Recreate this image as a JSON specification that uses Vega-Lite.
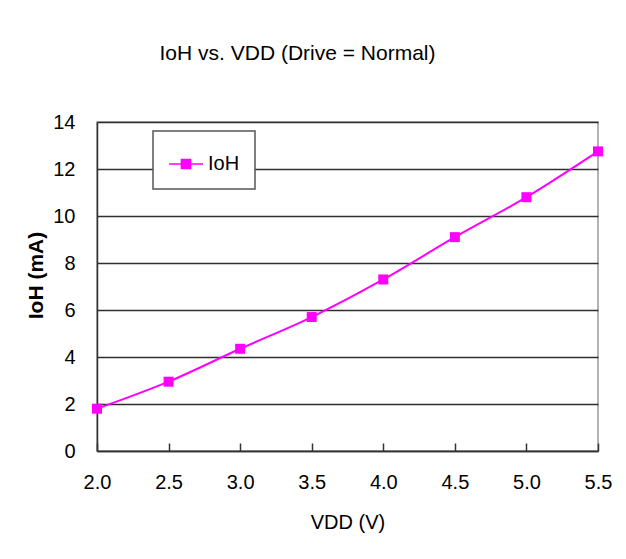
{
  "$schema": "https://vega.github.io/schema/vega-lite/v6.json",
  "autosize": {"type": "none"},
  "padding": {"left": 97, "top": 122, "right": 28, "bottom": 108},
  "width": 501,
  "height": 329,
  "background": "white",
  "title": {
    "text": "IoH vs. VDD (Drive = Normal)",
    "fontSize": 21,
    "fontWeight": "normal",
    "font": "Liberation Sans",
    "color": "#000000",
    "anchor": "middle",
    "dx": -50,
    "baseline": "alphabetic",
    "offset": 31
  },
  "config": {
    "font": "Liberation Sans",
    "view": {"stroke": "#9a9a9a", "strokeWidth": 1.5},
    "axis": {
      "labelFont": "Liberation Sans",
      "titleFont": "Liberation Sans",
      "labelColor": "#000000",
      "titleColor": "#000000",
      "domainColor": "#333333",
      "domainWidth": 1.5
    }
  },
  "data": {
    "values": [
      {"vdd": 2.0, "ioh": 1.8, "series": "IoH"},
      {"vdd": 2.5, "ioh": 2.95, "series": "IoH"},
      {"vdd": 3.0, "ioh": 4.35, "series": "IoH"},
      {"vdd": 3.5, "ioh": 5.7, "series": "IoH"},
      {"vdd": 4.0, "ioh": 7.3, "series": "IoH"},
      {"vdd": 4.5, "ioh": 9.1, "series": "IoH"},
      {"vdd": 5.0, "ioh": 10.8, "series": "IoH"},
      {"vdd": 5.5, "ioh": 12.75, "series": "IoH"}
    ]
  },
  "encoding": {
    "x": {
      "field": "vdd",
      "type": "quantitative",
      "scale": {"domain": [2, 5.5], "nice": false, "zero": false},
      "axis": {
        "title": "VDD (V)",
        "values": [2, 2.5, 3, 3.5, 4, 4.5, 5, 5.5],
        "format": ".1f",
        "grid": false,
        "ticks": true,
        "tickSize": -8,
        "tickColor": "#333333",
        "tickWidth": 1.5,
        "labelFontSize": 20,
        "labelPadding": 29,
        "labelFlush": false,
        "titleFontSize": 20,
        "titleFontWeight": "normal",
        "titlePadding": 20
      }
    },
    "y": {
      "field": "ioh",
      "type": "quantitative",
      "scale": {"domain": [0, 14], "nice": false},
      "axis": {
        "title": "IoH (mA)",
        "values": [0, 2, 4, 6, 8, 10, 12, 14],
        "grid": true,
        "gridColor": "#2e2e2e",
        "gridWidth": 1.3,
        "ticks": false,
        "labelFontSize": 20,
        "labelPadding": 22,
        "titleFontSize": 21,
        "titleFontWeight": "bold",
        "titlePadding": 6,
        "titleY": 153
      }
    },
    "color": {
      "field": "series",
      "type": "nominal",
      "scale": {"range": ["#ff00ff"]},
      "legend": {
        "title": null,
        "orient": "none",
        "legendX": 56,
        "legendY": 9,
        "padding": 15,
        "fillColor": "white",
        "strokeColor": "#555555",
        "symbolType": "M-1,0L1,0M-0.27,-0.27L0.27,-0.27L0.27,0.27L-0.27,0.27Z",
        "symbolSize": 1156,
        "symbolStrokeWidth": 1.5,
        "labelFontSize": 20,
        "labelFont": "Liberation Sans",
        "labelColor": "#000000",
        "labelOffset": 4,
        "encode": {
          "symbols": {"update": {"fill": {"value": "#ff00ff"}, "stroke": {"value": "#ff00ff"}, "strokeWidth": {"value": 1.5}}},
          "legend": {"update": {"strokeWidth": {"value": 1.5}}}
        }
      }
    }
  },
  "layer": [
    {"mark": {"type": "line", "interpolate": "monotone", "strokeWidth": 2}},
    {"mark": {"type": "point", "shape": "square", "filled": true, "size": 100, "opacity": 1}}
  ]
}
